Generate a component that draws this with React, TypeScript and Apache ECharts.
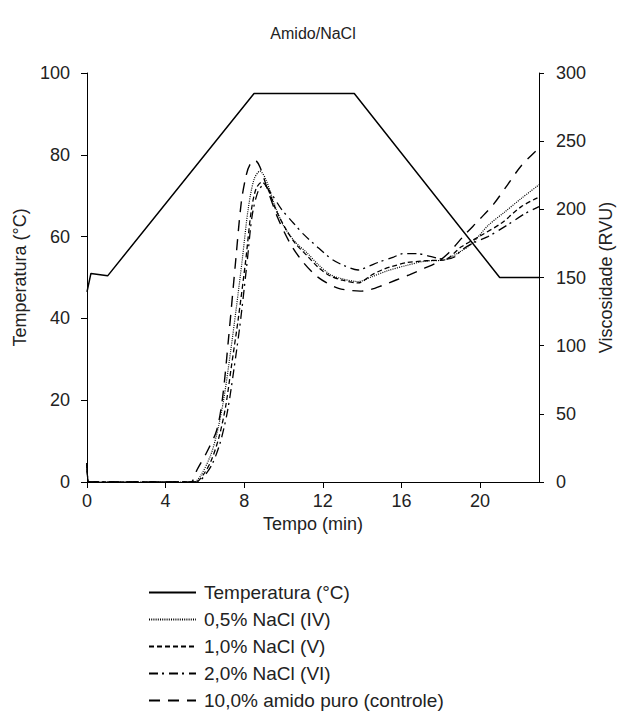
import React, { useEffect, useRef } from "react";
import * as echarts from "echarts";

const titleText = "Amido/NaCl";
const xName = "Tempo (min)";
const yLeftName = "Temperatura (°C)";
const yRightName = "Viscosidade (RVU)";

const seriesNames = [
  "Temperatura (°C)",
  "0,5% NaCl (IV)",
  "1,0% NaCl (V)",
  "2,0% NaCl (VI)",
  "10,0% amido puro (controle)",
];

// Temperature profile (left axis)
const tempTime = [0, 0.2, 1.05, 8.5, 13.6, 21.0, 23];
const tempValue = [46.5, 51, 50.4, 95, 95, 50, 50];

// 0,5% NaCl (IV)
const t05 = [0, 0.1, 5.0, 5.45, 5.8, 6.3, 6.6, 6.95, 7.3, 7.6, 7.9, 8.2, 8.5, 8.8, 9.1, 9.5, 10.0, 10.6, 11.2, 11.8, 12.4, 13.0, 13.8, 14.4, 15.3, 16.3, 17.2, 18.2, 19.0, 19.6, 20.4, 21.25, 22.1, 23];
const v05 = [14, 0, 0, 0, 5, 20, 35, 60, 95, 128, 163, 200, 222, 228, 222, 205, 188, 176, 168, 159, 152, 149, 147, 150, 155, 159, 162, 163, 169, 175, 188, 198, 208, 218];

// 1,0% NaCl (V)
const t10 = [0, 0.1, 5.0, 5.55, 5.9, 6.3, 6.7, 7.05, 7.35, 7.7, 8.08, 8.35, 8.6, 8.9, 9.2, 9.6, 10.1, 10.6, 11.2, 11.8, 12.4, 13.0, 13.8, 14.5, 15.0, 15.5, 16.3, 17.0, 17.6, 18.2, 19.05, 20.07, 21.1, 22.1, 23];
const v10 = [14, 0, 0, 0, 5, 15, 32, 55, 85, 120, 163, 198, 215, 220, 215, 200, 186, 175, 166, 157, 151, 148, 146, 152, 155.5, 158, 161, 162, 162.5, 163, 172.5, 181, 190, 202, 209];

// 2,0% NaCl (VI)
const t20 = [0, 0.1, 5.0, 5.6, 6.0, 6.4, 6.8, 7.15, 7.45, 7.8, 8.16, 8.4, 8.7, 9.0, 9.4, 9.9, 10.5, 11.0, 11.6, 12.5, 13.2, 13.8, 14.3, 14.8, 15.6, 16.1, 16.8, 17.3, 17.9, 18.3, 18.7, 19.05, 19.6, 20.4, 21.4, 22.3, 23];
const v20 = [14, 0, 0, 0, 5, 14, 30, 52, 80, 117, 163, 195, 213, 218, 211, 200, 190, 182, 174, 163, 158, 155.5, 158, 161, 165, 167.5, 167.5, 166, 164, 163.5, 165, 170, 175, 180, 188.6, 197, 202];

// 10,0% amido puro (controle)
const tCtl = [0, 0.1, 5.0, 5.3, 5.6, 6.1, 6.6, 6.9, 7.2, 7.57, 7.85, 8.1, 8.3, 8.55, 8.8, 9.2, 9.7, 10.3, 10.9, 11.6, 12.2, 12.8, 13.4, 13.9, 14.4, 15.0, 15.7, 16.4, 17.2, 17.8, 18.4, 19.2, 20.0, 20.7, 21.4, 22.1, 23];
const vCtl = [14, 0, 0, 0, 9, 22, 38, 62, 105, 163, 205, 225, 233, 236, 231, 214, 194, 176, 163, 152, 146, 142, 140.5, 140, 141, 144, 148, 152, 157, 161, 168, 181, 193, 204, 218, 232, 245];

const zip = (a: number[], b: number[]) => a.map((x, i) => [x, b[i]]);

const FONT = "'Liberation Sans', Arial, sans-serif";
const TXT = "#222";

export default function App() {
  const ref = useRef<HTMLDivElement>(null);
  useEffect(() => {
    document.body.style.margin = "0";
    const chart = echarts.init(ref.current!, undefined, { renderer: "svg" });
    const visc = (name: string, data: number[][], type: any, width = 1.3) => ({
      name,
      type: "line",
      yAxisIndex: 1,
      data,
      smooth: 0.3,
      symbol: "none",
      showSymbol: false,
      itemStyle: { color: "#000" },
      lineStyle: { color: "#000", width, type },
    });
    chart.setOption({
      animation: false,
      textStyle: { fontFamily: FONT, color: TXT },
      title: {
        text: titleText,
        left: "center",
        top: 20,
        textStyle: { fontFamily: FONT, fontSize: 16, fontWeight: "normal", color: TXT },
      },
      grid: { left: 87, right: 87, top: 73, bottom: 243, containLabel: false },
      legend: {
        orient: "vertical",
        left: 143,
        top: 578,
        itemWidth: 47,
        itemHeight: 10,
        itemGap: 8,
        itemStyle: { opacity: 0 },
        data: seriesNames,
        textStyle: { fontFamily: FONT, fontSize: 19, color: TXT, padding: [0, 0, 0, 3] },
      },
      xAxis: {
        type: "value",
        min: 0,
        max: 23,
        interval: 4,
        name: xName,
        nameLocation: "middle",
        nameGap: 26,
        nameTextStyle: { fontFamily: FONT, fontSize: 18, color: TXT },
        splitLine: { show: false },
        axisLine: { lineStyle: { color: "#000", width: 1 } },
        axisTick: { show: true, length: 6, lineStyle: { color: "#000" } },
        axisLabel: { fontFamily: FONT, fontSize: 18, color: TXT, margin: 10, showMaxLabel: false },
      },
      yAxis: [
        {
          type: "value",
          min: 0,
          max: 100,
          interval: 20,
          position: "left",
          name: yLeftName,
          nameLocation: "middle",
          nameGap: 54,
          nameTextStyle: { fontFamily: FONT, fontSize: 18, color: TXT },
          splitLine: { show: false },
          axisLine: { show: true, lineStyle: { color: "#000", width: 1 } },
          axisTick: { show: true, length: 6, lineStyle: { color: "#000" } },
          axisLabel: { fontFamily: FONT, fontSize: 18, color: TXT, margin: 17 },
        },
        {
          type: "value",
          min: 0,
          max: 300,
          interval: 50,
          position: "right",
          name: yRightName,
          nameLocation: "middle",
          nameGap: 52,
          nameTextStyle: { fontFamily: FONT, fontSize: 18, color: TXT },
          splitLine: { show: false },
          axisLine: { show: true, lineStyle: { color: "#000", width: 1 } },
          axisTick: { show: true, length: 5, lineStyle: { color: "#000" } },
          axisLabel: { fontFamily: FONT, fontSize: 18, color: TXT, margin: 17 },
        },
      ],
      series: [
        {
          name: seriesNames[0],
          type: "line",
          yAxisIndex: 0,
          data: zip(tempTime, tempValue),
          symbol: "none",
          showSymbol: false,
          itemStyle: { color: "#000" },
          lineStyle: { color: "#000", width: 1.5, type: "solid" },
        },
        visc(seriesNames[1], zip(t05, v05), [1, 1.2], 1.2),
        visc(seriesNames[2], zip(t10, v10), [5, 3]),
        visc(seriesNames[3], zip(t20, v20), [9, 4, 2, 5]),
        visc(seriesNames[4], zip(tCtl, vCtl), [11, 8], 1.4),
      ],
    });
    return () => chart.dispose();
  }, []);
  return <div ref={ref} style={{ width: 626, height: 725 }} />;
}
